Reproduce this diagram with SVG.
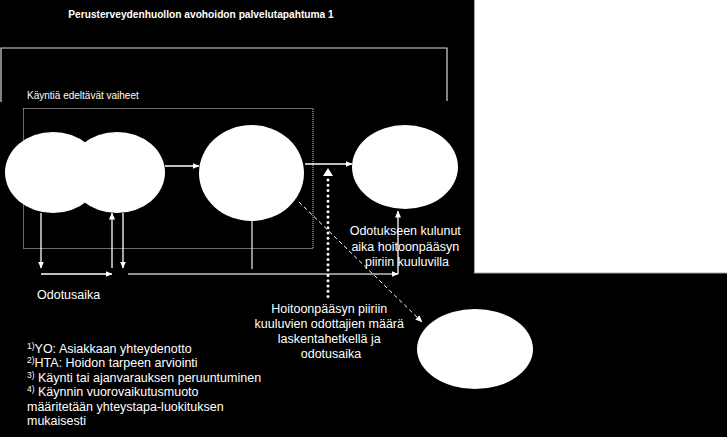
<svg xmlns="http://www.w3.org/2000/svg" width="727" height="437" viewBox="0 0 727 437">
<style>
  text { font-family: "Liberation Sans", Arial, sans-serif; fill: #ffffff; }
  .t { font-size: 12.5px; }
  .sup { font-size: 8.5px; }
  .node { fill: #ffffff; stroke: none; }
  .ln { stroke: #ffffff; stroke-width: 1.3; fill: none; }
  .gray { stroke: #bfbfbf; stroke-width: 1.5; fill: none; }
</style>
<defs>
  <marker id="ah" markerUnits="userSpaceOnUse" markerWidth="7" markerHeight="7" refX="6.5" refY="3.5" orient="auto">
    <path d="M0,0.5 L7,3.5 L0,6.5 z" fill="#ffffff"/>
  </marker>
</defs>
<rect x="0" y="0" width="727" height="437" fill="#000000"/>

<g id="white-panel">
  <rect x="474.5" y="-1" width="253" height="274" fill="#ffffff" stroke="#a6a6a6" stroke-width="1"/>
</g>

<g id="title">
  <text x="201" y="18" text-anchor="middle" font-size="10.2" font-weight="bold">Perusterveydenhuollon avohoidon palvelutapahtuma 1</text>
</g>

<g id="outer-frame">
  <path d="M1,102 V48 H447 V101" fill="none" stroke="#d9d9d9" stroke-width="1.2"/>
</g>

<g id="pre-visit-frame">
  <text x="27" y="99" font-size="10">Käyntiä edeltävät vaiheet</text>
  <rect x="23.5" y="108.5" width="289.5" height="140" fill="none" stroke="#d9d9d9" stroke-width="1" stroke-dasharray="1 1"/>
</g>

<g id="e1"><ellipse class="node" cx="53" cy="172.5" rx="48" ry="40.5"/></g>
<g id="e2"><ellipse class="node" cx="117" cy="172.5" rx="48" ry="40.5"/></g>
<g id="e3"><ellipse class="node" cx="251.5" cy="173" rx="52.5" ry="48"/></g>
<g id="e4"><ellipse class="node" cx="405" cy="167" rx="53" ry="42"/></g>
<g id="e5"><ellipse class="node" cx="475" cy="349" rx="58" ry="40"/></g>

<g id="connectors">
  <line class="ln" x1="165" y1="166" x2="199" y2="166" marker-end="url(#ah)"/>
  <line class="ln" x1="305" y1="164" x2="352" y2="164" marker-end="url(#ah)"/>
  <line class="ln" x1="41" y1="213" x2="41" y2="268" marker-end="url(#ah)"/>
  <line class="ln" x1="41" y1="274" x2="112" y2="274" marker-end="url(#ah)"/>
  <line class="ln" x1="112" y1="268" x2="112" y2="213" marker-end="url(#ah)"/>
  <line class="ln" x1="123" y1="213" x2="123" y2="268" marker-end="url(#ah)"/>
  <line class="gray" x1="252" y1="221" x2="252" y2="269"/>
  <line class="gray" x1="128" y1="274" x2="398" y2="274" marker-end="url(#ah)"/>
  <line class="ln" x1="398" y1="274" x2="398" y2="211" marker-end="url(#ah)"/>
  <line x1="299" y1="202" x2="422" y2="322" stroke="#ffffff" stroke-width="1" stroke-dasharray="4 3" marker-end="url(#ah)"/>
  <line x1="328" y1="180" x2="328" y2="298" stroke="#ffffff" stroke-width="3" stroke-linecap="round" stroke-dasharray="0 5.3"/>
  <polygon points="328,168 323,176 333,176" fill="#ffffff"/>
</g>

<g id="labels">
  <text class="t" x="37" y="299">Odotusaika</text>
  <text class="t" text-anchor="middle">
    <tspan x="407" y="235">Odotukseen kulunut</tspan>
    <tspan x="407" y="250.5">aika hoitoonpääsyn</tspan>
    <tspan x="407" y="266">piiriin kuuluvilla</tspan>
  </text>
  <text class="t" text-anchor="middle">
    <tspan x="331" y="312.5">Hoitoonpääsyn piiriin</tspan>
    <tspan x="331" y="327.5">kuuluvien odottajien määrä</tspan>
    <tspan x="331" y="342.5">laskentahetkellä ja</tspan>
    <tspan x="331" y="357.5">odotusaika</tspan>
  </text>
  <text class="t" x="27" y="352.5"><tspan class="sup" dy="-4">1)</tspan><tspan dy="4">YO: Asiakkaan yhteydenotto</tspan></text>
  <text class="t" x="27" y="367"><tspan class="sup" dy="-4">2)</tspan><tspan dy="4">HTA:  Hoidon tarpeen arviointi</tspan></text>
  <text class="t" x="27" y="381.5"><tspan class="sup" dy="-4">3)</tspan><tspan dy="4"> Käynti tai ajanvarauksen peruuntuminen</tspan></text>
  <text class="t" x="27" y="396"><tspan class="sup" dy="-4">4)</tspan><tspan dy="4"> Käynnin vuorovaikutusmuoto</tspan></text>
  <text class="t" x="27" y="410.5">määritetään yhteystapa-luokituksen</text>
  <text class="t" x="27" y="425">mukaisesti</text>
</g>
</svg>
